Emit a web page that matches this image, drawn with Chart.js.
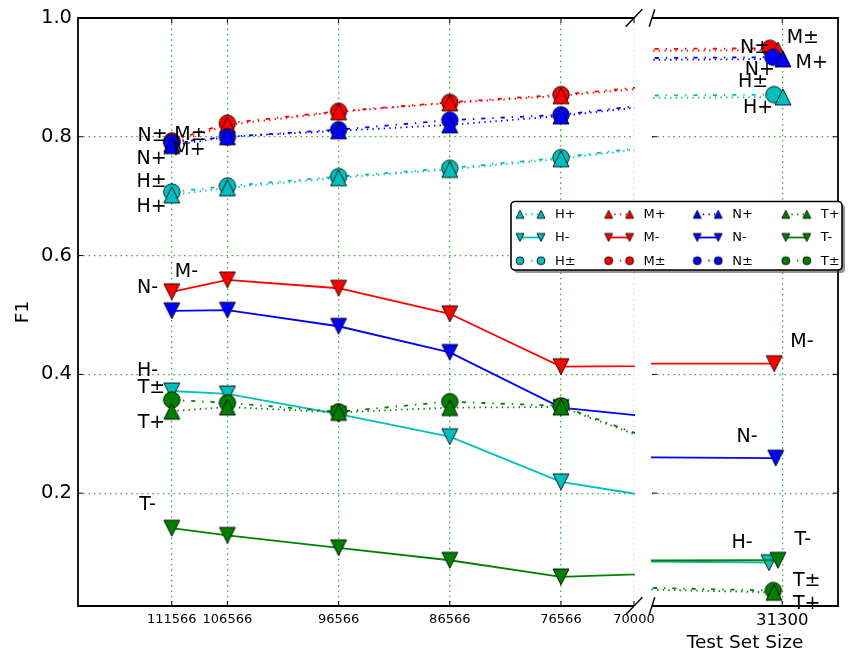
<!DOCTYPE html>
<html>
<head>
<meta charset="utf-8">
<script src="https://cdn.jsdelivr.net/npm/chart.js@4/dist/chart.umd.min.js"></script>
<style>
  html, body { margin: 0; padding: 0; background: #fff; }
  #wrap { position: relative; width: 849px; height: 655px; background: #fff; }
  #wrap canvas { position: absolute; left: 0; top: 0; }
</style>
</head>
<body>
<div id="wrap">
  <canvas id="mainPanel" width="849" height="655"></canvas>
  <canvas id="tailPanel" width="849" height="655"></canvas>
</div>
<script>
// Test set sizes shared by every series on the main (left) panel
const sizes = [111566, 106566, 96566, 86566, 76566];

// Series names, in legend order (column by column)
const names = ['H+', 'H-', 'H±', 'M+', 'M-', 'M±', 'N+', 'N-', 'N±', 'T+', 'T-', 'T±'];

// Size of the final, small test set for each series (same order as names)
const tailSizes = [31296, 31371, 31344, 31323, 31343, 31366, 31296, 31335, 31350, 31344, 31323, 31348];

// F1 per series: the five main-panel sizes, then the final test set
const hPlus  = [0.702, 0.714, 0.731, 0.745, 0.763, 0.867];
const hMinus = [0.372, 0.367, 0.333, 0.295, 0.219, 0.083];
const hPm    = [0.707, 0.717, 0.733, 0.747, 0.765, 0.871];
const mPlus  = [0.788, 0.820, 0.842, 0.857, 0.869, 0.946];
const mMinus = [0.539, 0.559, 0.545, 0.502, 0.413, 0.418];
const mPm    = [0.793, 0.823, 0.843, 0.858, 0.871, 0.949];
const nPlus  = [0.785, 0.800, 0.810, 0.820, 0.835, 0.931];
const nMinus = [0.507, 0.508, 0.481, 0.437, 0.344, 0.259];
const nPm    = [0.790, 0.800, 0.812, 0.828, 0.837, 0.934];
const tPlus  = [0.338, 0.345, 0.336, 0.344, 0.345, 0.033];
const tMinus = [0.141, 0.129, 0.108, 0.087, 0.059, 0.087];
const tPm    = [0.357, 0.352, 0.337, 0.354, 0.347, 0.036];

// Tick labels
const xTicksMain = [111566, 106566, 96566, 86566, 76566, 70000];
const xTicksTail = [31300];
const yTicks = [0.2, 0.4, 0.6, 0.8, 1.0];

// Series name labels placed next to the points (data coordinates)
const mainLabelText = ['N±', 'M±', 'N+', 'M+', 'H±', 'H+', 'M-', 'N-', 'H-', 'T±', 'T+', 'T-'];
const mainLabelX    = [113300, 109886, 113390, 109976, 113390, 113390, 110245, 113749, 113749, 113390, 113390, 113749];
const mainLabelY    = [0.805, 0.806, 0.766, 0.781, 0.727, 0.685, 0.575, 0.548, 0.409, 0.381, 0.322, 0.183];
const tailLabelText = ['M±', 'N±', 'M+', 'N+', 'H±', 'H+', 'M-', 'N-', 'H-', 'T-', 'T±', 'T+'];
const tailLabelX    = [31189, 31446, 31141, 31420, 31457, 31430, 31194, 31489, 31516, 31189, 31168, 31168];
const tailLabelY    = [0.970, 0.953, 0.928, 0.916, 0.896, 0.852, 0.457, 0.298, 0.119, 0.124, 0.056, 0.017];

const seriesF1 = [hPlus, hMinus, hPm, mPlus, mMinus, mPm, nPlus, nMinus, nPm, tPlus, tMinus, tPm];

const FONT = 'DejaVu Sans';
const groupColor = { H: '#00bfbf', M: '#ff0000', N: '#0000ff', T: '#008000' };
const signStyle = {
  '+': { shape: 'up',     dash: [1.4, 4.2] },
  '-': { shape: 'down',   dash: [] },
  '±': { shape: 'circle', dash: [4.2, 6.9, 1.4, 6.9] }
};
// stacking of the series, bottom to top
const drawRank = ['H±', 'H+', 'H-', 'M±', 'M+', 'M-', 'N±', 'N+', 'N-', 'T±', 'T+', 'T-'];
const gridColor = 'rgba(20,155,20,0.8)';
const gridDash = [1.6, 3.7];

// Marker sprites: filled shape with a thin black edge
const spriteCache = {};
function markerSprite(shape, color, size) {
  const key = shape + color + size;
  if (spriteCache[key]) return spriteCache[key];
  const c = document.createElement('canvas');
  const dim = Math.ceil(size) + 4 + (Math.ceil(size) % 2);
  c.width = c.height = dim;
  const g = c.getContext('2d');
  const m = dim / 2, h = size / 2;
  g.beginPath();
  if (shape === 'circle') {
    g.arc(m, m, h, 0, Math.PI * 2);
  } else if (shape === 'up') {
    g.moveTo(m, m - h); g.lineTo(m + h, m + h); g.lineTo(m - h, m + h); g.closePath();
  } else {
    g.moveTo(m, m + h); g.lineTo(m + h, m - h); g.lineTo(m - h, m - h); g.closePath();
  }
  g.fillStyle = color;
  g.fill();
  g.lineWidth = 1;
  g.strokeStyle = 'rgba(0,0,0,0.85)';
  g.stroke();
  spriteCache[key] = c;
  return c;
}

function makeDatasets() {
  return names.map((name, i) => {
    const color = groupColor[name[0]];
    const st = signStyle[name.slice(1)];
    const size = st.shape === 'circle' ? 16.5 : 16;
    const pts = seriesF1[i].map((v, j) => ({ x: j < sizes.length ? sizes[j] : tailSizes[i], y: v }));
    return {
      label: name,
      data: pts,
      borderColor: color,
      backgroundColor: color,
      borderWidth: 1.8,
      borderDash: st.dash,
      pointStyle: markerSprite(st.shape, color, size),
      pointRadius: 8.5,
      pointHoverRadius: 8.5,
      tension: 0,
      fill: false,
      clip: 1,
      order: drawRank.length - 1 - drawRank.indexOf(name)
    };
  });
}

// Spines, inward tick marks, axis-break marks, point labels and legend
const framePlugin = {
  id: 'frame',
  afterDraw(chart, args, o) {
    const { ctx } = chart;
    const { left, right, top, bottom } = chart.chartArea;
    const xs = chart.scales.x, ys = chart.scales.y;
    ctx.save();
    ctx.strokeStyle = '#000';
    ctx.lineCap = 'butt';
    const seg = (x1, y1, x2, y2) => { ctx.beginPath(); ctx.moveTo(x1, y1); ctx.lineTo(x2, y2); ctx.stroke(); };

    // inward tick marks
    ctx.lineWidth = 1;
    yTicks.forEach(v => {
      const py = ys.getPixelForValue(v);
      if (o.yTickSides.includes('left')) seg(left, py, left + 5, py);
      if (o.yTickSides.includes('right')) seg(right, py, right - 5, py);
    });
    xs.ticks.forEach(t => {
      const px = xs.getPixelForValue(t.value);
      seg(px, bottom, px, bottom - 5);
      seg(px, top, px, top + 5);
    });

    // spines
    ctx.lineWidth = 1.8;
    if (o.spines.includes('left')) seg(left, top - 0.9, left, bottom + 0.9);
    if (o.spines.includes('right')) seg(right, top - 0.9, right, bottom + 0.9);
    if (o.spines.includes('top')) seg(left, top, right, top);
    if (o.spines.includes('bottom')) seg(left, bottom, right, bottom);

    // axis-break diagonals (fraction of the panel size)
    ctx.lineWidth = 1.4;
    const d = 0.015;
    const dx = d * (right - left), dy = d * (bottom - top);
    const ex = o.breakSide === 'right' ? right : left;
    seg(ex - dx, top + dy, ex + dx, top - dy);
    seg(ex - dx, bottom + dy, ex + dx, bottom - dy);

    // series name labels
    ctx.fillStyle = '#000';
    ctx.font = '19px "' + FONT + '"';
    ctx.textAlign = 'center';
    ctx.textBaseline = 'alphabetic';
    o.labelText.forEach((txt, i) => {
      const px = xs.getPixelForValue(o.labelX[i]);
      const py = ys.getPixelForValue(o.labelY[i]);
      ctx.fillText(txt, px, py + 6.9);
    });

    if (o.legend) drawLegend(ctx);
    ctx.restore();
  }
};

function drawLegend(ctx) {
  const bx = 511, by = 201.5, bw = 331, bh = 68.5, r = 4;
  const box = (x, y) => {
    ctx.beginPath();
    ctx.moveTo(x + r, y);
    ctx.arcTo(x + bw, y, x + bw, y + bh, r);
    ctx.arcTo(x + bw, y + bh, x, y + bh, r);
    ctx.arcTo(x, y + bh, x, y, r);
    ctx.arcTo(x, y, x + bw, y, r);
    ctx.closePath();
  };
  ctx.fillStyle = 'rgba(60,60,60,0.55)';
  box(bx + 3, by + 3); ctx.fill();
  ctx.fillStyle = '#fff';
  box(bx, by); ctx.fill();
  ctx.strokeStyle = '#000'; ctx.lineWidth = 1.6;
  box(bx, by); ctx.stroke();

  ctx.font = '13px "' + FONT + '"';
  ctx.textAlign = 'left';
  ctx.textBaseline = 'middle';
  names.forEach((name, i) => {
    const col = Math.floor(i / 3), row = i % 3;
    const x0 = 520 + col * 88.6, y = 214.3 + row * 23.2;
    const color = groupColor[name[0]];
    const st = signStyle[name.slice(1)];
    ctx.save();
    ctx.strokeStyle = color; ctx.lineWidth = 1.8; ctx.setLineDash(st.dash);
    ctx.beginPath(); ctx.moveTo(x0, y); ctx.lineTo(x0 + 21, y); ctx.stroke();
    ctx.restore();
    const sp = markerSprite(st.shape, color, 8);
    ctx.drawImage(sp, x0 - sp.width / 2, y - sp.height / 2);
    ctx.drawImage(sp, x0 + 21 - sp.width / 2, y - sp.height / 2);
    ctx.fillStyle = '#000';
    ctx.fillText(name, x0 + 35, y + 0.5);
  });
}

function yScaleOptions(showLabels) {
  return {
    type: 'linear', min: 0.01, max: 1.0,
    afterBuildTicks: s => { s.ticks = yTicks.map(v => ({ value: v })); },
    afterFit: s => { s.width = showLabels ? 78 : 0; },
    ticks: {
      display: showLabels,
      callback: v => Number(v).toFixed(1),
      font: { family: FONT, size: 19.5 }, color: '#000', padding: 6
    },
    grid: { drawTicks: false, color: gridColor, lineWidth: 1.3 },
    border: { display: false, dash: gridDash },
    title: {
      display: showLabels, text: 'F1',
      font: { family: FONT, size: 18.5 }, color: '#000', padding: { top: 12, bottom: 0 }
    }
  };
}

Chart.register(framePlugin);

// Main panel: sizes from 120000 down to 70000
new Chart(document.getElementById('mainPanel'), {
  type: 'line',
  data: { datasets: makeDatasets() },
  options: {
    responsive: false, animation: false, events: [],
    layout: { padding: { left: 0, right: 215, top: 18, bottom: 0 } },
    plugins: {
      legend: { display: false }, tooltip: { enabled: false },
      frame: {
        spines: ['left', 'top', 'bottom'], yTickSides: ['left'], breakSide: 'right',
        labelText: mainLabelText, labelX: mainLabelX, labelY: mainLabelY, legend: false
      }
    },
    scales: {
      x: {
        type: 'linear', min: 70000, max: 120000, reverse: true,
        afterBuildTicks: s => { s.ticks = xTicksMain.map(v => ({ value: v })); },
        afterFit: s => { s.height = 49; },
        ticks: {
          callback: v => String(v), autoSkip: false, maxRotation: 0,
          font: { family: FONT, size: 13 }, color: '#000', padding: 6
        },
        grid: {
          drawTicks: false, lineWidth: 1.3,
          color: c => (c.tick && c.tick.value === 70000) ? 'rgba(150,190,150,0.45)' : gridColor
        },
        border: { display: false, dash: gridDash }
      },
      y: yScaleOptions(true)
    }
  }
});

// Tail panel: the small final test set
new Chart(document.getElementById('tailPanel'), {
  type: 'line',
  data: { datasets: makeDatasets() },
  options: {
    responsive: false, animation: false, events: [],
    layout: { padding: { left: 652, right: 11, top: 18, bottom: 0 } },
    plugins: {
      legend: { display: false }, tooltip: { enabled: false },
      frame: {
        spines: ['right', 'top', 'bottom'], yTickSides: ['left', 'right'], breakSide: 'left',
        labelText: tailLabelText, labelX: tailLabelX, labelY: tailLabelY, legend: true
      }
    },
    scales: {
      x: {
        type: 'linear', min: 31000, max: 32000, reverse: true,
        afterBuildTicks: s => { s.ticks = xTicksTail.map(v => ({ value: v })); },
        afterFit: s => { s.height = 49; },
        ticks: {
          callback: v => String(v), autoSkip: false, maxRotation: 0,
          font: { family: FONT, size: 16.5 }, color: '#000', padding: 5
        },
        grid: { drawTicks: false, lineWidth: 1.3, color: gridColor },
        border: { display: false, dash: gridDash },
        title: {
          display: true, text: 'Test Set Size',
          font: { family: FONT, size: 18.5 }, color: '#000', padding: { top: 0, bottom: 1 }
        }
      },
      y: yScaleOptions(false)
    }
  }
});
</script>
</body>
</html>
